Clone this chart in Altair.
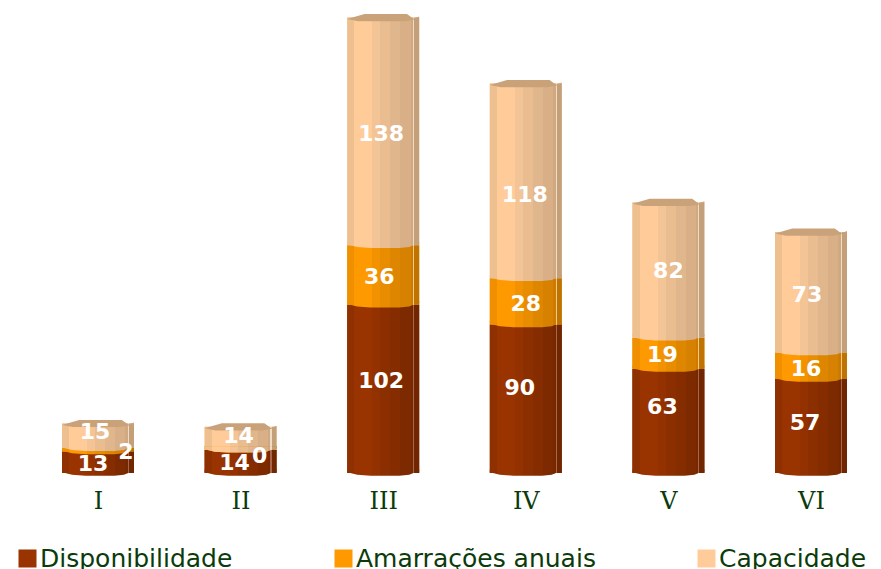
import altair as alt
import pandas as pd

categories = ["I", "II", "III", "IV", "V", "VI"]
disponibilidade = [13, 14, 102, 90, 63, 57]
amarracoes = [2, 0, 36, 28, 19, 16]
capacidade = [15, 14, 138, 118, 82, 73]
series_names = ["Disponibilidade", "Amarrações anuais", "Capacidade"]
series_values = [disponibilidade, amarracoes, capacidade]
series_colors = ["#993300", "#FF9900", "#FFCC99"]

# label nudges (style only): series -> per category (dx, dy)
nudges = [
    [(-5, 2), (-6, 2), (-2, -8), (-6, -11), (-6, -14), (-6, -3)],
    [(28, 2), (19, 6), (-4, 2), (0, 3), (-6, 2), (-5, 3)],
    [(-3, -4), (-2, -2), (-2, 3), (-1, 14), (0, 1), (-4, 3)],
]

rows = []
for s, vals in enumerate(series_values):
    for c, v in zip(categories, vals):
        base = sum(series_values[k][categories.index(c)] for k in range(s))
        rows.append({"cat": c, "series": series_names[s], "v": v, "y0": base,
                     "y1": base + v, "mid": base + v / 2, "s": s})
df = pd.DataFrame(rows)

# facet shading of the cylinder, (end position, rgb) steps, for each colour
facet_ends = [0.10, 0.35, 0.46, 0.60, 0.74, 0.88, 0.915, 0.93, 1.0]
shades = {
    0: ["#8F3000", "#993300", "#933100", "#8C2F00", "#852D00", "#7E2A00", "#772800", "#A8674A", "#702600"],
    1: ["#F09000", "#FF9900", "#F29200", "#E88C00", "#DE8600", "#D68100", "#CC7B00", "#F2C98A", "#BF7300"],
    2: ["#EEC08F", "#FFCC99", "#F3C495", "#E9BD90", "#E0B68C", "#D8AF87", "#D0A982", "#EFDCC4", "#C4A07A"],
}


def gradient(s):
    stops, start = [], 0.0
    for end, col in zip(facet_ends, shades[s]):
        stops.append(alt.GradientStop(offset=start, color=col))
        stops.append(alt.GradientStop(offset=end, color=col))
        start = end
    return alt.LinearGradient(gradient="linear", stops=stops, x1=0, x2=1, y1=0, y2=0)


X = alt.X("cat:N", sort=categories, title=None,
          scale=alt.Scale(type="point", domain=categories, range=[90, 803], padding=0),
          axis=alt.Axis(labelAngle=0, ticks=False, domain=False, grid=False, labelPadding=28,
                        labelFont="DejaVu Serif", labelFontSize=24, labelColor="#0B3B0B",
                        labelBaseline="middle"))
YS = alt.Scale(domain=[0, 465 / 1.65], nice=False, zero=True)
Y = alt.Y("y0:Q", title=None, axis=None, scale=YS)

BAR_W = 72
SIZE = BAR_W ** 2
LENS = "M-1,-0.02 L-0.72,0.05 L-0.35,0.075 L0.45,0.075 L0.72,0.05 L0.84,0 L1,-0.04 L1,-0.1 L-1,-0.1 Z"
CAP = "M-1,0.04 L-0.52,-0.1 L0.66,-0.1 L0.84,0.03 L1,-0.03 L1,0.0 L0.84,0.06 L0.6,0.1 L-0.7,0.1 Z"

base = alt.Chart(df)
layers = [
    base.mark_bar(width=BAR_W, stroke=None).encode(
        x=X, y=Y, y2="y1:Q",
        color=alt.Color("series:N", sort=series_names,
                        scale=alt.Scale(domain=series_names, range=series_colors),
                        legend=alt.Legend(
                            title=None, orient="none", legendX=7, legendY=538, direction="horizontal",
                            columns=3, columnPadding=98, symbolType="square", symbolSize=324,
                            symbolStrokeWidth=0, labelFont="DejaVu Sans", labelFontSize=25,
                            labelColor="#0B3B0B", labelOffset=0, labelLimit=400, symbolOpacity=1,
                            gridAlign="none")))
]
for s in range(3):
    layers.append(base.transform_filter(alt.datum.s == s).mark_bar(
        width=BAR_W, fill=gradient(s), stroke=None).encode(x=X, y=Y, y2="y1:Q"))
for s in range(3):
    layers.append(base.transform_filter(alt.datum.s == s).mark_point(
        shape=LENS, size=SIZE, filled=True, fill=gradient(s), opacity=1, strokeWidth=0
    ).encode(x=X, y=Y))
layers.append(base.transform_filter(alt.datum.s == 2).mark_point(
    shape=CAP, size=SIZE, filled=True, fill="#C9A27A", opacity=1, strokeWidth=0
).encode(x=X, y=alt.Y("y1:Q", axis=None, title=None, scale=YS)))

for s, name in enumerate(series_names):
    for c, (dx, dy) in zip(categories, nudges[s]):
        layers.append(base.transform_filter(
            (alt.datum.s == s) & (alt.datum.cat == c)
        ).mark_text(font="DejaVu Sans", fontWeight="bold", fontSize=22, color="white",
                    dx=dx, dy=dy, baseline="middle", align="center").encode(
            x=X,
            y=alt.Y("mid:Q", axis=None, title=None, scale=YS),
            text="v:Q"))

chart = alt.layer(*layers).properties(
    width=865, height=465,
    autosize=alt.AutoSizeParams(type="none"),
    padding={"left": 0, "top": 0, "right": 0, "bottom": 96},
    background="white",
).configure_view(stroke=None)

chart.save("out.html", embed_options={"renderer": "svg", "actions": False})
